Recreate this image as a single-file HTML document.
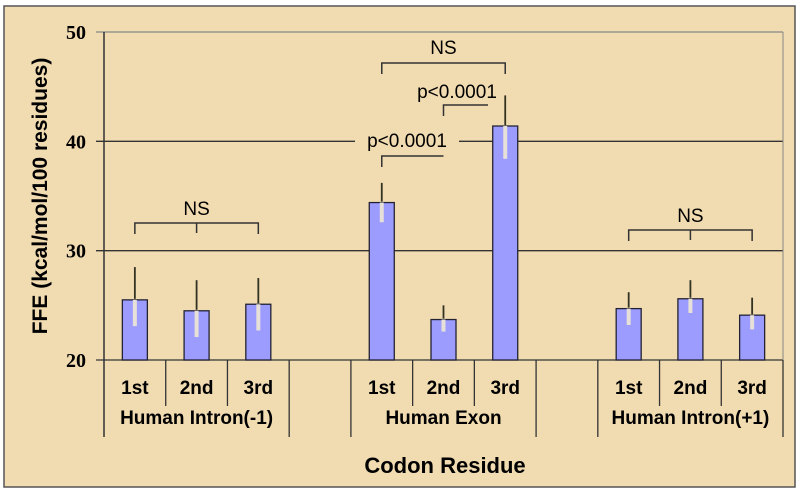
<!DOCTYPE html>
<html><head><meta charset="utf-8"><style>
body{margin:0;background:#fff}
svg{display:block}
text{font-family:"Liberation Sans",sans-serif}
</style></head><body>
<svg id="chart" width="800" height="493">
<rect x="4" y="6" width="791" height="481" fill="#f1dbb1" stroke="#555" stroke-width="1.5"/>
<g id="grid"></g><g id="bars"></g><g id="axes"></g><g id="annot"></g>
<text x="47" y="196" transform="rotate(-90 47 196)" text-anchor="middle" font-size="21" font-weight="bold">FFE (kcal/mol/100 residues)</text>
<text x="445" y="473" text-anchor="middle" font-size="22" font-weight="bold">Codon Residue</text>
</svg>
<script>
const categories=["1st","2nd","3rd","","1st","2nd","3rd","","1st","2nd","3rd"];
const groups=["Human Intron(-1)","Human Exon","Human Intron(+1)"];
const values=[25.5,24.5,25.1,null,34.4,23.7,41.4,null,24.7,25.6,24.1];
const upper=[28.5,27.3,27.5,null,36.2,25.0,44.2,null,26.2,27.3,25.7];
const lower=[23.1,22.1,22.7,null,32.6,22.6,38.4,null,23.2,24.3,22.8];
const yTicks=[20,30,40,50];
const NS="http://www.w3.org/2000/svg";
const X0=104,X1=783,Y0=360,Y1=32,ymin=20,ymax=50;
const slot=(X1-X0)/categories.length;
const y=v=>Y0-(v-ymin)/(ymax-ymin)*(Y0-Y1);
const xc=i=>X0+slot*(i+0.5);
function el(p,t,a){const e=document.createElementNS(NS,t);for(const k in a)e.setAttribute(k,a[k]);p.appendChild(e);return e;}
const grid=document.getElementById('grid'),bars=document.getElementById('bars'),axes=document.getElementById('axes'),an=document.getElementById('annot');
yTicks.forEach(t=>{
 const l=el(grid,'line',{x1:96,x2:X1,y1:y(t),y2:y(t),stroke:t==50?'#888':'#333','stroke-width':1.3});
 
 
 const tx=el(axes,'text',{x:86,y:y(t)+7,'text-anchor':'end','font-size':20,'font-weight':'bold',style:'font-family:"Liberation Serif",serif'});
 tx.textContent=t;
 
 
});
el(axes,'line',{x1:X1,x2:X1,y1:Y1,y2:Y0,stroke:'#888','stroke-width':1});
const al=el(axes,'line',{x1:X0,x2:X0,y1:Y1,y2:437,stroke:'#333','stroke-width':1.5});


for(let k=1;k<=categories.length;k++){
 const long=[3,4,7,8,11].includes(k);
 el(axes,'line',{x1:X0+slot*k,x2:X0+slot*k,y1:Y0,y2:long?437:406,stroke:'#333','stroke-width':1.3});
}
categories.forEach((c,i)=>{
 if(!c)return;
 const t=el(axes,'text',{x:xc(i),y:394,'text-anchor':'middle','font-size':19,'font-weight':'bold'});
 t.textContent=c;
 
 
});
groups.forEach((g,j)=>{
 const t=el(axes,'text',{x:xc(j*4+1),y:424,'text-anchor':'middle','font-size':19,'font-weight':'bold','textLength':j==1?0:0});
 t.removeAttribute('textLength');
 t.textContent=g;
 
 
});
values.forEach((v,i)=>{
 if(v==null)return;
 const w=25,x=xc(i);
 const r=el(bars,'rect',{x:x-w/2,y:y(v),width:w,height:Y0-y(v),fill:'#9c9cff',stroke:'#223','stroke-width':1.3});
 
 
 el(bars,'line',{x1:x,x2:x,y1:y(v),y2:y(lower[i]),stroke:'#e6e0d8','stroke-width':4});
 el(bars,'line',{x1:x,x2:x,y1:y(v)-1,y2:y(upper[i]),stroke:'#332','stroke-width':1.8});
});
function bracket(xa,xb,yy,mid,label,tx,ty,bg){
 const d='M'+xa+' '+(yy+11)+'V'+yy+'H'+xb+(bg?'':'V'+(yy+11))+(mid?'M'+mid+' '+yy+'v10':'');
 const p=el(an,'path',{d:d,fill:'none',stroke:'#333','stroke-width':1.5});
 
 
 if(bg==='mask')el(an,'rect',{x:tx-52,y:ty-17,width:104,height:22,fill:'#f1dbb1'});
 const t=el(an,'text',{x:tx,y:ty,'text-anchor':'middle','font-size':19});
 t.textContent=label;
 
 
}
bracket(xc(0),xc(2),223,xc(1),'NS',xc(1),215);
bracket(xc(8),xc(10),230,xc(9),'NS',xc(9),222);
bracket(xc(4),xc(6),63,null,'NS',xc(5),54);
bracket(xc(5),488,105,null,'p<0.0001',457,98,'open');
bracket(xc(4),xc(5),156,null,'p<0.0001',407,147,'mask');
</script>
</body></html>
